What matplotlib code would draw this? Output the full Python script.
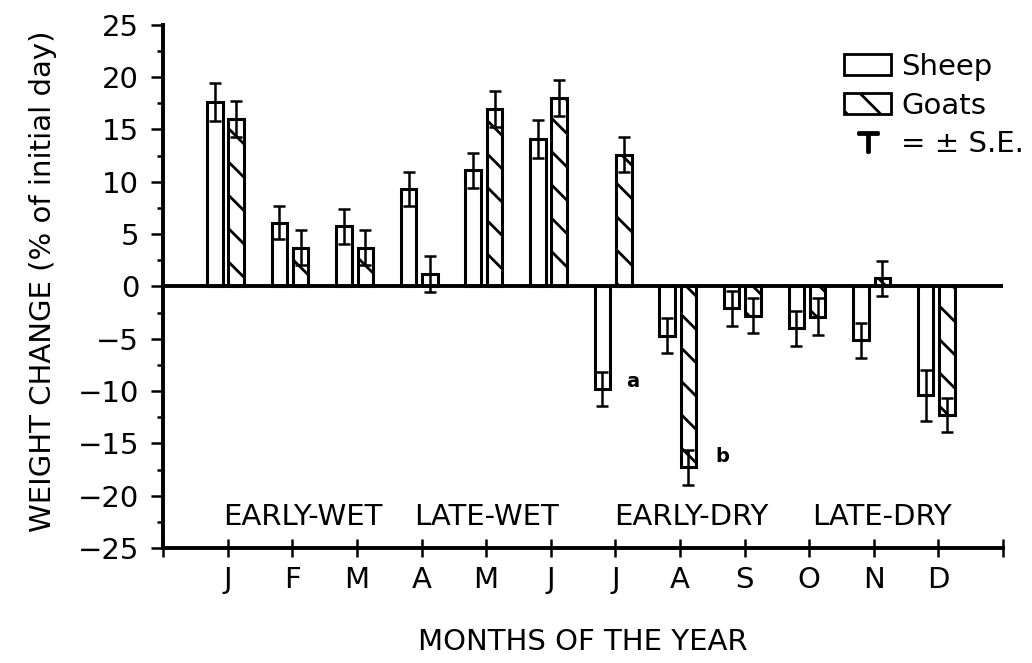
import numpy as np
import matplotlib
matplotlib.use('Agg')
import matplotlib.pyplot as plt
from matplotlib.patches import Patch
from matplotlib.lines import Line2D

# data (% weight change, +/- S.E.)
months = ['J', 'F', 'M', 'A', 'M', 'J', 'J', 'A', 'S', 'O', 'N', 'D']
sheep = [17.6, 6.1, 5.75, 9.3, 11.1, 14.1, -9.8, -4.7, -2.1, -4.0, -5.15, -10.4]
sheep_se = [1.8, 1.6, 1.65, 1.6, 1.65, 1.8, 1.65, 1.7, 1.7, 1.65, 1.65, 2.45]
goats = [16.0, 3.7, 3.7, 1.2, 16.95, 18.0, 12.6, -17.3, -2.8, -2.9, 0.76, -12.3]
goats_se = [1.7, 1.7, 1.7, 1.7, 1.7, 1.7, 1.7, 1.7, 1.7, 1.75, 1.7, 1.65]
seasons = ['EARLY-WET', 'LATE-WET', 'EARLY-DRY', 'LATE-DRY']
season_x = [2.17, 5.0, 8.17, 11.13]

plt.rcParams['font.family'] = ['DejaVu Sans']
plt.rcParams['hatch.linewidth'] = 1.0
plt.rcParams['hatch.color'] = 'black'

fig = plt.figure(figsize=(5.16, 3.315), dpi=200)
ax = fig.add_axes([0.158, 0.1735, 0.814, 0.789])

x = np.arange(1, len(months) + 1)
w = 0.24
xs = x - 0.2
xg = x + 0.13

ax.bar(xs, sheep, w, color='white', edgecolor='black', linewidth=1.1, zorder=2)
ax.bar(xg, goats, w, color='white', edgecolor='black', linewidth=1.1,
       hatch='\\\\', zorder=2)
ax.errorbar(xs, sheep, yerr=sheep_se, fmt='none', ecolor='black',
            elinewidth=0.9, capsize=2.3, capthick=0.9, zorder=3)
ax.errorbar(xg, goats, yerr=goats_se, fmt='none', ecolor='black',
            elinewidth=0.9, capsize=2.3, capthick=0.9, zorder=3)

ax.axhline(0, color='black', lw=1.4, zorder=4)

ax.set_xlim(0, 13)
ax.set_ylim(-25, 25)
ax.set_xticks(np.arange(0, 14))
ax.set_xticklabels([''] + months + [''])
ax.set_yticks(np.arange(-25, 26, 5))
ax.set_yticks(np.arange(-25, 26, 2.5), minor=True)
ax.tick_params(axis='x', direction='inout', length=6.5, width=0.9, pad=3.2,
               labelsize=10.5)
ax.tick_params(axis='y', which='major', direction='out', length=4.3, width=0.9,
               pad=4.3, labelsize=10.5)
ax.tick_params(axis='y', which='minor', direction='out', length=2.0, width=0.9)

for s in ['top', 'right']:
    ax.spines[s].set_visible(False)
for s in ['left', 'bottom']:
    ax.spines[s].set_linewidth(1.4)

for sx, lab in zip(season_x, seasons):
    ax.text(sx, -22.0, lab, ha='center', va='center', fontsize=10.5)

ax.text(7.26, -9.1, 'a', fontsize=7, fontweight='bold', ha='center', va='center')
ax.text(8.65, -16.25, 'b', fontsize=7, fontweight='bold', ha='center', va='center')

ax.set_ylabel('WEIGHT CHANGE (% of initial day)', fontsize=10.5, va='center')
ax.yaxis.set_label_coords(-0.143, 0.509)
ax.set_xlabel('MONTHS OF THE YEAR', fontsize=10.5, va='center')
ax.xaxis.set_label_coords(0.5, -0.18)

handles = [Patch(facecolor='white', edgecolor='black', linewidth=1.0),
           Patch(facecolor='white', edgecolor='black', linewidth=1.0,
                 hatch='\\\\'),
           Line2D([], [], color='black', marker='$\\top$', linestyle='none',
                  markersize=7)]
fig.legend(handles, ['Sheep', 'Goats', '= \u00b1 S.E.'],
           loc='upper left', bbox_to_anchor=(0.818, 0.92), frameon=False,
           fontsize=10.5, handlelength=1.6, handleheight=0.72,
           handletextpad=0.35, labelspacing=0.36, borderpad=0,
           borderaxespad=0)

fig.savefig('out.png', dpi=200)
